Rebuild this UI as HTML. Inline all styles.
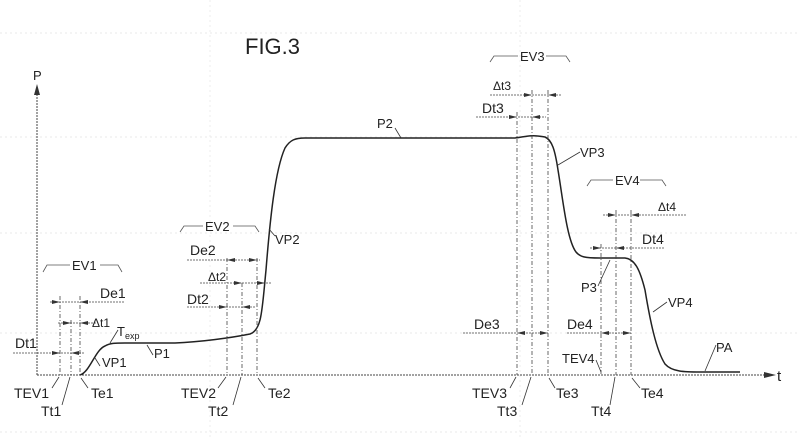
<!DOCTYPE html>
<html><head><meta charset="utf-8"><style>
html,body{margin:0;padding:0;background:#fff;}
svg{display:block;}
text{font-family:"Liberation Sans",sans-serif;fill:#222;}
</style></head><body>
<svg width="800" height="439" viewBox="0 0 800 439" xmlns="http://www.w3.org/2000/svg">
<!-- faint grid -->
<g stroke="#e4e4e4" stroke-width="0.7" stroke-dasharray="2,3" fill="none">
<line x1="0" y1="33" x2="800" y2="33"/>
<line x1="0" y1="137" x2="800" y2="137"/>
<line x1="0" y1="233" x2="800" y2="233"/>
<line x1="0" y1="333" x2="800" y2="333"/>
<line x1="0" y1="432" x2="800" y2="432"/>
<line x1="210" y1="0" x2="210" y2="439"/>
<line x1="520" y1="0" x2="520" y2="439"/>
</g>
<!-- axes -->
<g stroke="#444" stroke-width="1" fill="none">
<line x1="37" y1="375" x2="37" y2="92" stroke-dasharray="2,1"/>
<line x1="37" y1="375" x2="768" y2="375" stroke-dasharray="2,1"/>
</g>
<path d="M37,84 L34,95 L40,95 z" fill="#333"/>
<path d="M776,375 L764,372 L764,378 z" fill="#333"/>
<text x="33" y="80" font-size="13">P</text>
<text x="777" y="381" font-size="15">t</text>
<text x="245" y="54" font-size="22" fill="#333">FIG.3</text>

<!-- curve -->
<path d="M80,375 C90,372 95,350 105,346 C110,343 115,343 125,343 L175,343 C200,342 230,338 250,334 C262,330 262,310 266,270 C270,220 275,170 285,148 C290,140 295,138 305,138 L515,138 C525,137 530,134 545,137 C552,140 555,150 558,170 C563,200 567,240 576,252 C580,257 585,258 600,258 L625,258 C635,259 640,270 645,290 C650,320 656,350 665,364 C672,372 685,372 700,372 L740,372" fill="none" stroke="#222" stroke-width="1.5"/>

<!-- vertical dashed lines -->
<g stroke="#444" stroke-width="0.8" stroke-dasharray="4,2,1,2" fill="none">
<line x1="60" y1="296" x2="60" y2="375"/>
<line x1="71" y1="320" x2="71" y2="375"/>
<line x1="80" y1="296" x2="80" y2="375"/>
<line x1="227" y1="258" x2="227" y2="375"/>
<line x1="242" y1="283" x2="242" y2="375"/>
<line x1="257" y1="258" x2="257" y2="375"/>
<line x1="517" y1="112" x2="517" y2="375"/>
<line x1="532" y1="90" x2="532" y2="375"/>
<line x1="548" y1="90" x2="548" y2="375"/>
<line x1="601" y1="244" x2="601" y2="375"/>
<line x1="616" y1="210" x2="616" y2="375"/>
<line x1="631" y1="210" x2="631" y2="375"/>
</g>

<!-- dimension lines -->
<g stroke="#444" stroke-width="0.8" stroke-dasharray="2,1" fill="none">
<line x1="50" y1="302" x2="125" y2="302"/>
<line x1="58" y1="323" x2="97" y2="323"/>
<line x1="13" y1="353" x2="85" y2="353"/>
<line x1="187" y1="260" x2="260" y2="260"/>
<line x1="200" y1="283" x2="272" y2="283"/>
<line x1="187" y1="307" x2="256" y2="307"/>
<line x1="490" y1="95" x2="562" y2="95"/>
<line x1="476" y1="117" x2="546" y2="117"/>
<line x1="463" y1="333" x2="548" y2="333"/>
<line x1="603" y1="215" x2="687" y2="215"/>
<line x1="590" y1="248" x2="665" y2="248"/>
<line x1="567" y1="333" x2="631" y2="333"/>
</g>
<g fill="#333">
<path d="M60,302 l-8,-2 v4z"/><path d="M80,302 l8,-2 v4z"/>
<path d="M71,323 l-8,-2 v4z"/><path d="M80,323 l8,-2 v4z"/>
<path d="M60,353 l-8,-2 v4z"/><path d="M71,353 l8,-2 v4z"/>
<path d="M227,260 l8,-2 v4z"/><path d="M257,260 l-8,-2 v4z"/>
<path d="M242,283 l-8,-2 v4z"/><path d="M265,283 l-8,-2 v4z"/>
<path d="M227,307 l-8,-2 v4z"/><path d="M242,307 l8,-2 v4z"/>
<path d="M532,95 l-8,-2 v4z"/><path d="M548,95 l8,-2 v4z"/>
<path d="M517,117 l-8,-2 v4z"/><path d="M532,117 l8,-2 v4z"/>
<path d="M517,333 l8,-2 v4z"/><path d="M548,333 l-8,-2 v4z"/>
<path d="M616,215 l-8,-2 v4z"/><path d="M631,215 l8,-2 v4z"/>
<path d="M601,248 l-8,-2 v4z"/><path d="M616,248 l8,-2 v4z"/>
<path d="M601,333 l8,-2 v4z"/><path d="M631,333 l-8,-2 v4z"/>
</g>

<!-- brackets -->
<g stroke="#555" stroke-width="0.8" fill="none">
<path d="M43,272 L47,265 L70,265 M100,265 L118,265 L122,272"/>
<path d="M180,232 L184,226 L203,226 M233,226 L255,226 L259,232"/>
<path d="M490,62 L494,56 L518,56 M546,56 L566,56 L570,62"/>
<path d="M587,186 L591,180 L613,180 M640,180 L662,180 L666,186"/>
</g>
<g font-size="13">
<text x="72" y="270" fill="#555">EV1</text>
<text x="205" y="231" fill="#555">EV2</text>
<text x="520" y="61" fill="#555">EV3</text>
<text x="615" y="185" fill="#555">EV4</text>
</g>

<g font-size="14">
<text x="100" y="298">De1</text>
<text x="92" y="327" font-size="12">Δt1</text>
<text x="15" y="348">Dt1</text>
<text x="117" y="336" font-size="13">T<tspan font-size="9" dy="3">exp</tspan></text>
<text x="190" y="255">De2</text>
<text x="208" y="281" font-size="12">Δt2</text>
<text x="187" y="304">Dt2</text>
<text x="493" y="90" font-size="12">Δt3</text>
<text x="482" y="113">Dt3</text>
<text x="474" y="329">De3</text>
<text x="658" y="211" font-size="12">Δt4</text>
<text x="642" y="244">Dt4</text>
<text x="567" y="329">De4</text>
</g>
<g font-size="13">
<text x="102" y="367" fill="#555">VP1</text>
<text x="154" y="358" fill="#555">P1</text>
<text x="377" y="128" fill="#555">P2</text>
<text x="275" y="244" fill="#555">VP2</text>
<text x="580" y="157" fill="#555">VP3</text>
<text x="581" y="292" fill="#555">P3</text>
<text x="668" y="307" fill="#555">VP4</text>
<text x="716" y="352" fill="#555">PA</text>
<text x="562" y="363" fill="#555">TEV4</text>
</g>
<g stroke="#333" stroke-width="0.8" fill="none">
<line x1="100" y1="366" x2="95" y2="358"/>
<line x1="153" y1="355" x2="147" y2="345"/>
<line x1="118" y1="330" x2="110" y2="343"/>
<line x1="395" y1="128" x2="401" y2="138"/>
<line x1="275" y1="236" x2="269" y2="229"/>
<line x1="580" y1="152" x2="558" y2="165"/>
<line x1="598" y1="286" x2="610" y2="260"/>
<line x1="667" y1="302" x2="653" y2="312"/>
<line x1="716" y1="345" x2="705" y2="371"/>
<line x1="596" y1="360" x2="601" y2="372"/>
<line x1="52" y1="388" x2="59" y2="377"/>
<line x1="62" y1="405" x2="70" y2="377"/>
<line x1="88" y1="388" x2="81" y2="378"/>
<line x1="218" y1="388" x2="226" y2="377"/>
<line x1="233" y1="405" x2="241" y2="377"/>
<line x1="265" y1="388" x2="258" y2="378"/>
<line x1="510" y1="388" x2="516" y2="377"/>
<line x1="522" y1="405" x2="531" y2="377"/>
<line x1="555" y1="388" x2="549" y2="378"/>
<line x1="610" y1="405" x2="615" y2="377"/>
<line x1="640" y1="388" x2="632" y2="378"/>
</g>
<g font-size="14">
<text x="14" y="398">TEV1</text>
<text x="41" y="416">Tt1</text>
<text x="91" y="398">Te1</text>
<text x="181" y="398">TEV2</text>
<text x="208" y="416">Tt2</text>
<text x="268" y="398">Te2</text>
<text x="472" y="398">TEV3</text>
<text x="497" y="416">Tt3</text>
<text x="556" y="398">Te3</text>
<text x="591" y="416">Tt4</text>
<text x="641" y="398" fill="#555">Te4</text>
</g>
</svg>
</body></html>
